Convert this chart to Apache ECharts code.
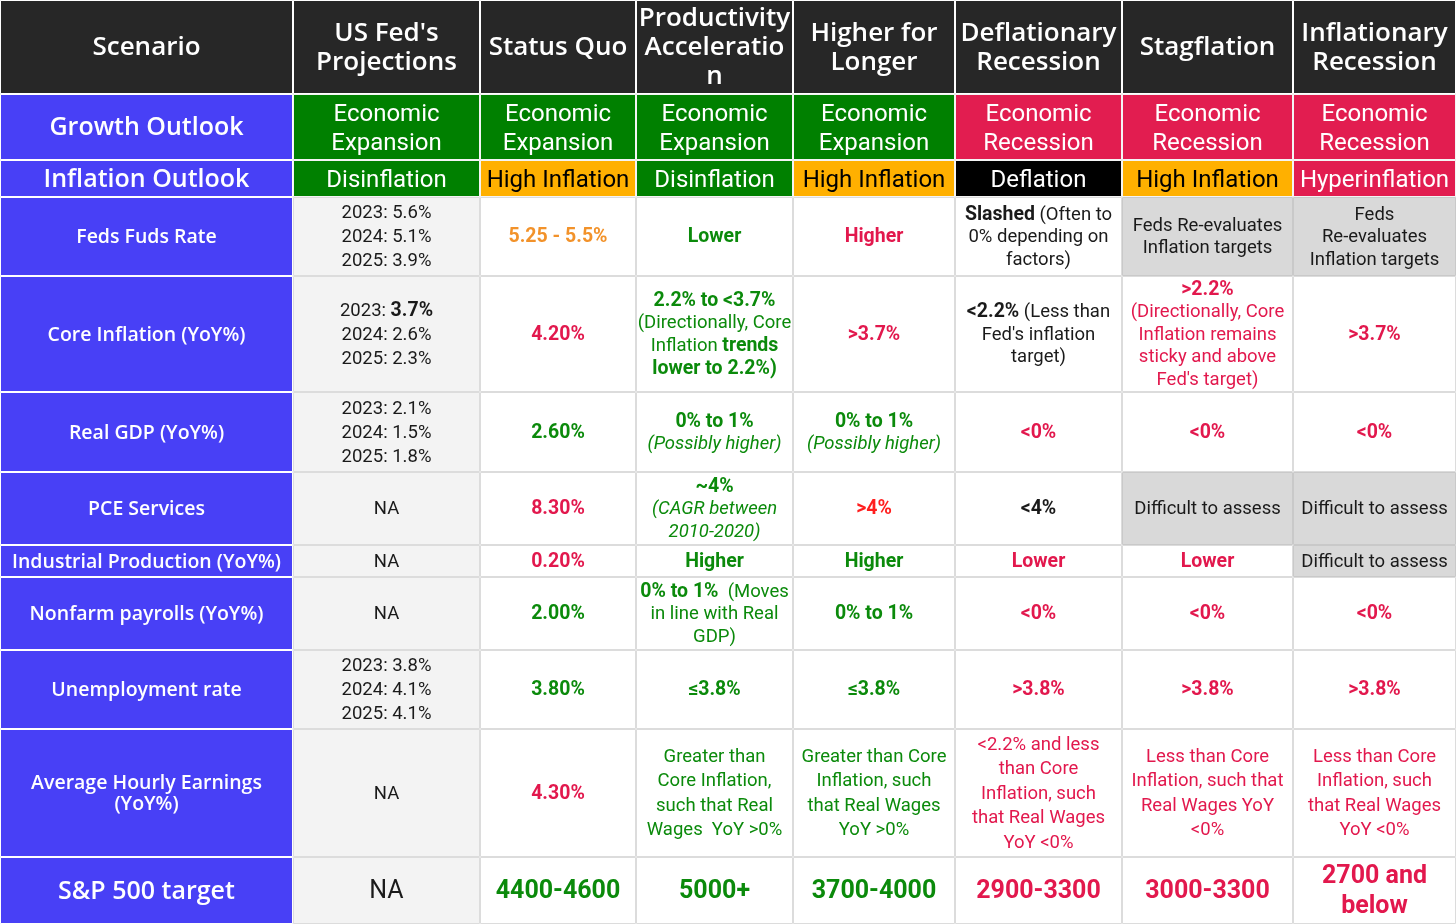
<!DOCTYPE html>
<html>
<head>
<meta charset="utf-8">
<script src="https://cdn.jsdelivr.net/npm/echarts@6/dist/echarts.min.js"></script>
<style>
html,body{margin:0;padding:0;background:#fff;}
#chart{width:1456px;height:924px;}
</style>
</head>
<body>
<div id="chart"></div>
<script>
// ---------------- DATA ----------------
const scenarios = ['Scenario', "US Fed's\nProjections", 'Status Quo', 'Productivity\nAcceleratio\nn', 'Higher for\nLonger', 'Deflationary\nRecession', 'Stagflation', 'Inflationary\nRecession'];
const rowLabels = ['Growth Outlook', 'Inflation Outlook', 'Feds Fuds Rate', 'Core Inflation (YoY%)', 'Real GDP (YoY%)', 'PCE Services', 'Industrial Production (YoY%)', 'Nonfarm payrolls (YoY%)', 'Unemployment rate', 'Average Hourly Earnings\n(YoY%)', 'S&P 500 target'];
const growthOutlook = ['Economic\nExpansion', 'Economic\nExpansion', 'Economic\nExpansion', 'Economic\nExpansion', 'Economic\nRecession', 'Economic\nRecession', 'Economic\nRecession'];
const inflationOutlook = ['Disinflation', 'High Inflation', 'Disinflation', 'High Inflation', 'Deflation', 'High Inflation', 'Hyperinflation'];
const fedFundsRate = ['2023: 5.6%\n2024: 5.1%\n2025: 3.9%', '{b|5.25 - 5.5%}', '{b|Lower}', '{b|Higher}', '{b|Slashed} (Often to\n0% depending on\nfactors)', 'Feds Re-evaluates\nInflation targets', 'Feds\nRe-evaluates\nInflation targets'];
const fedFundsTone = ['n', 'o', 'g', 'r', 'n', 'x', 'x'];
const coreInflation = ['2023: {b|3.7%}\n2024: 2.6%\n2025: 2.3%', '{b|4.20%}', '{b|2.2% to <3.7%}\n(Directionally, Core\nInflation {b|trends}\n{b|lower to 2.2%)}', '{b|>3.7%}', '{b|<2.2%} (Less than\nFed\'s inflation\ntarget)', '{b|>2.2%}\n(Directionally, Core\nInflation remains\nsticky and above\nFed\'s target)', '{b|>3.7%}'];
const coreInflationTone = ['n', 'r', 'g', 'r', 'n', 'r', 'r'];
const realGdp = ['2023: 2.1%\n2024: 1.5%\n2025: 1.8%', '{b|2.60%}', '{b|0% to 1%}\n{i|(Possibly higher)}', '{b|0% to 1%}\n{i|(Possibly higher)}', '{b|<0%}', '{b|<0%}', '{b|<0%}'];
const realGdpTone = ['n', 'g', 'g', 'g', 'r', 'r', 'r'];
const pceServices = ['NA', '{b|8.30%}', '{b|~4%}\n{i|(CAGR between}\n{i|2010-2020)}', '{b|>4%}', '{b|<4%}', 'Difficult to assess', 'Difficult to assess'];
const pceServicesTone = ['n', 'r', 'g', 'R', 'n', 'x', 'x'];
const industrialProduction = ['NA', '{b|0.20%}', '{b|Higher}', '{b|Higher}', '{b|Lower}', '{b|Lower}', 'Difficult to assess'];
const industrialProductionTone = ['n', 'r', 'g', 'g', 'r', 'r', 'x'];
const nonfarmPayrolls = ['NA', '{b|2.00%}', '{b|0% to 1%}  (Moves\nin line with Real\nGDP)', '{b|0% to 1%}', '{b|<0%}', '{b|<0%}', '{b|<0%}'];
const nonfarmPayrollsTone = ['n', 'g', 'g', 'g', 'r', 'r', 'r'];
const unemploymentRate = ['2023: 3.8%\n2024: 4.1%\n2025: 4.1%', '{b|3.80%}', '{b|≤3.8%}', '{b|≤3.8%}', '{b|>3.8%}', '{b|>3.8%}', '{b|>3.8%}'];
const unemploymentRateTone = ['n', 'g', 'g', 'g', 'r', 'r', 'r'];
const hourlyEarnings = ['NA', '{b|4.30%}', 'Greater than\nCore Inflation,\nsuch that Real\nWages  YoY >0%', 'Greater than Core\nInflation, such\nthat Real Wages\nYoY >0%', '<2.2% and less\nthan Core\nInflation, such\nthat Real Wages\nYoY <0%', 'Less than Core\nInflation, such that\nReal Wages YoY\n<0%', 'Less than Core\nInflation, such\nthat Real Wages\nYoY <0%'];
const hourlyEarningsTone = ['n', 'r', 'g', 'g', 'r', 'r', 'r'];
const spTarget = ['NA', '{b|4400-4600}', '{b|5000+}', '{b|3700-4000}', '{b|2900-3300}', '{b|3000-3300}', '{b|2700 and}\n{b|below}'];
const spTargetTone = ['n', 'g', 'g', 'g', 'r', 'r', 'r'];
const growthTone = ['exp', 'exp', 'exp', 'exp', 'rec', 'rec', 'rec'];
const inflationTone = ['dis', 'high', 'dis', 'high', 'def', 'high', 'hyper'];

// ---------------- LAYOUT ----------------
const colWidths = [293, 187, 156, 157, 162, 167, 171, 163];
const rowHeights = [94, 66, 37, 79, 116, 80, 73, 32, 73, 79, 128, 67];
const xEdges = [0]; colWidths.forEach(w => xEdges.push(xEdges[xEdges.length - 1] + w));
const yEdges = [0]; rowHeights.forEach(h => yEdges.push(yEdges[yEdges.length - 1] + h));

const C = {
  header: '#272727', blue: '#4840F6', green: '#008000', crimson: '#E21D50', amber: '#FFB000', black: '#000000',
  fedBg: '#F3F3F3', grayBg: '#D9D9D9', grid: '#DCDCDC',
  tGreen: '#0B8A0B', tRed: '#E2184D', tOrange: '#F2922A', tBright: '#FF1E1E', tDark: '#1A1A1A'
};
const HF = '"Open Sans", "Noto Sans", sans-serif';
const BF = 'Roboto, "Noto Sans", sans-serif';

function richFor(size, bsize, fam, color) {
  return {
    b: { fontSize: bsize, fontFamily: fam, fontWeight: 'bold', fill: color },
    i: { fontSize: size, fontFamily: fam, fontStyle: 'italic', fill: color }
  };
}

const bodyRows = [fedFundsRate, coreInflation, realGdp, pceServices, industrialProduction, nonfarmPayrolls, unemploymentRate, hourlyEarnings, spTarget];
const bodyTones = [fedFundsTone, coreInflationTone, realGdpTone, pceServicesTone, industrialProductionTone, nonfarmPayrollsTone, unemploymentRateTone, hourlyEarningsTone, spTargetTone];
const toneColor = { n: C.tDark, g: C.tGreen, r: C.tRed, o: C.tOrange, R: C.tBright, x: C.tDark };

const cells = [];
// header row
scenarios.forEach((s, c) => cells.push({ c, r: 0, text: s, bg: C.header, stroke: '#ffffff', color: '#ffffff', size: 26, fam: HF, weight: 600, lh: 29, dy: 1 }));
// left label column
rowLabels.forEach((s, i) => {
  const big = (i === 0 || i === 1 || i === 10);
  cells.push({ c: 0, r: i + 1, text: s, bg: C.blue, stroke: '#ffffff', color: '#ffffff', size: big ? 25 : 19.5, fam: HF, weight: 600, lh: 21, dy: 1 });
});
// outlook rows
growthOutlook.forEach((s, i) => cells.push({ c: i + 1, r: 1, text: s, bg: growthTone[i] === 'exp' ? C.green : C.crimson, stroke: '#f4f4f4', color: '#ffffff', size: 24, fam: BF, weight: 'normal', lh: 29, dy: 2 }));
const inflBg = { dis: C.green, high: C.amber, def: C.black, hyper: C.crimson };
inflationOutlook.forEach((s, i) => cells.push({ c: i + 1, r: 2, text: s, bg: inflBg[inflationTone[i]], stroke: '#f4f4f4', color: inflationTone[i] === 'high' ? '#000000' : '#ffffff', size: 24, fam: BF, weight: 'normal', lh: 29, dy: 2 }));
// body rows
bodyRows.forEach((row, ri) => {
  row.forEach((s, ci) => {
    const tone = bodyTones[ri][ci];
    const isSP = ri === bodyRows.length - 1;
    const isAHE = ri === 7;
    cells.push({
      c: ci + 1, r: ri + 3, text: s,
      bg: tone === 'x' ? C.grayBg : (ci === 0 ? C.fedBg : '#ffffff'),
      stroke: tone === 'x' ? '#C9C9C9' : C.grid,
      color: toneColor[tone], size: isSP ? 25 : 18.5, bsize: isSP ? 25 : 19.5, fam: BF, weight: 'normal',
      lh: isSP ? 30 : (isAHE ? 24.5 : (ci === 0 ? 24 : 22.5)), dy: 1
    });
  });
});

const chart = echarts.init(document.getElementById('chart'), null, { renderer: 'canvas' });
chart.setOption({
  animation: false,
  backgroundColor: '#ffffff',
  grid: { left: 0, right: 0, top: 0, bottom: 0 },
  xAxis: { type: 'value', min: 0, max: xEdges[xEdges.length - 1], show: false },
  yAxis: { type: 'value', min: 0, max: yEdges[yEdges.length - 1], inverse: true, show: false },
  series: [{
    type: 'custom',
    coordinateSystem: 'cartesian2d',
    silent: true,
    data: cells.map(cl => [(xEdges[cl.c] + xEdges[cl.c + 1]) / 2, (yEdges[cl.r] + yEdges[cl.r + 1]) / 2]),
    renderItem: function (params, api) {
      const cl = cells[params.dataIndex];
      const p0 = api.coord([xEdges[cl.c], yEdges[cl.r]]);
      const p1 = api.coord([xEdges[cl.c + 1], yEdges[cl.r + 1]]);
      const x = p0[0], y = p0[1], w = p1[0] - p0[0], h = p1[1] - p0[1];
      return {
        type: 'group',
        children: [
          { type: 'rect', shape: { x: x + 0.5, y: y + 0.5, width: w - 1, height: h - 1 }, style: { fill: cl.bg, stroke: cl.stroke, lineWidth: 1 } },
          { type: 'text', style: {
              text: cl.text, x: x + w / 2, y: y + h / 2 + (cl.dy || 0), align: 'center', verticalAlign: 'middle',
              fill: cl.color, fontSize: cl.size, fontFamily: cl.fam, fontWeight: cl.weight, lineHeight: cl.lh,
              rich: richFor(cl.size, cl.bsize || cl.size, cl.fam, cl.color)
          } }
        ]
      };
    }
  }]
});
</script>
</body>
</html>
